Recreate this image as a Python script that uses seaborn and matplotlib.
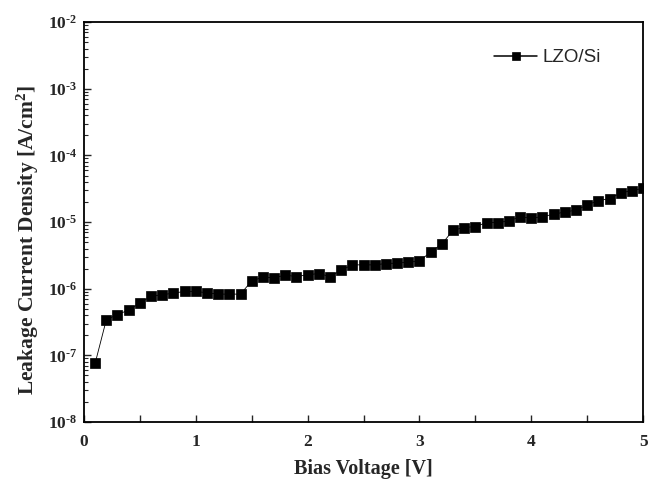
import numpy as np
import pandas as pd
import matplotlib
matplotlib.use("Agg")
import matplotlib.pyplot as plt
from matplotlib.lines import Line2D
from matplotlib.legend_handler import HandlerTuple
import seaborn as sns
from matplotlib.ticker import LogLocator, FixedLocator, FuncFormatter, NullFormatter

voltage = [0.1, 0.2, 0.3, 0.4, 0.5, 0.6, 0.7, 0.8, 0.9, 1.0,
           1.1, 1.2, 1.3, 1.4, 1.5, 1.6, 1.7, 1.8, 1.9, 2.0,
           2.1, 2.2, 2.3, 2.4, 2.5, 2.6, 2.7, 2.8, 2.9, 3.0,
           3.1, 3.2, 3.3, 3.4, 3.5, 3.6, 3.7, 3.8, 3.9, 4.0,
           4.1, 4.2, 4.3, 4.4, 4.5, 4.6, 4.7, 4.8, 4.9, 5.0]
current = [7.6e-8, 3.42e-7, 4.1e-7, 4.78e-7, 6.08e-7, 7.74e-7, 8.1e-7, 8.6e-7, 9.1e-7, 9.1e-7,
           8.7e-7, 8.3e-7, 8.3e-7, 8.3e-7, 1.31e-6, 1.49e-6, 1.46e-6, 1.6e-6, 1.52e-6, 1.62e-6,
           1.69e-6, 1.52e-6, 1.9e-6, 2.28e-6, 2.28e-6, 2.28e-6, 2.39e-6, 2.42e-6, 2.51e-6, 2.59e-6,
           3.57e-6, 4.67e-6, 7.56e-6, 8.28e-6, 8.57e-6, 9.84e-6, 9.84e-6, 1.04e-5, 1.2e-5, 1.14e-5,
           1.21e-5, 1.31e-5, 1.42e-5, 1.51e-5, 1.81e-5, 2.1e-5, 2.25e-5, 2.74e-5, 2.97e-5, 3.22e-5]
series_label = "LZO/Si"
x_ticks = [0, 1, 2, 3, 4, 5]
y_exponents = [-8, -7, -6, -5, -4, -3, -2]

sns.set_style("ticks")
plt.rcParams['font.family'] = ['Liberation Serif', 'DejaVu Serif']
plt.rcParams['mathtext.fontset'] = 'custom'
plt.rcParams['mathtext.rm'] = 'Liberation Serif'
plt.rcParams['mathtext.bf'] = 'Liberation Serif:bold'
plt.rcParams['mathtext.it'] = 'Liberation Serif:italic'

df = pd.DataFrame({"V": voltage, "J": current})

fig = plt.figure(figsize=(6.61, 4.82), dpi=100)
ax = fig.add_axes([0.127, 0.1245, 0.846, 0.8295])

sns.lineplot(data=df, x="V", y="J", ax=ax, color="black", linewidth=0.6,
             marker="s", markersize=6.5, markeredgecolor="black", markeredgewidth=0.5,
             legend=False)

ax.set_yscale("log")
ax.set_xlim(0, 5)
ax.set_ylim(10.0 ** y_exponents[0], 10.0 ** y_exponents[-1])

ax.xaxis.set_major_locator(FixedLocator(x_ticks))
ax.xaxis.set_minor_locator(FixedLocator([0.5, 1.5, 2.5, 3.5, 4.5]))
ax.yaxis.set_major_locator(FixedLocator([10.0 ** e for e in y_exponents]))
ax.yaxis.set_minor_locator(LogLocator(base=10, subs=np.arange(2, 10), numticks=20))
ax.yaxis.set_minor_formatter(NullFormatter())
ax.yaxis.set_major_formatter(FuncFormatter(
    lambda v, p: r'$\mathbf{10}^{\mathbf{\text{-}%d}}$' % abs(int(round(np.log10(v))))))
ax.xaxis.set_major_formatter(FuncFormatter(lambda v, p: '%d' % int(round(v))))

ax.tick_params(axis='both', which='major', direction='in', length=5, width=1,
               labelsize=12.5)
ax.tick_params(axis='x', which='major', pad=9)
ax.tick_params(axis='x', which='minor', direction='in', length=5, width=1)
ax.tick_params(axis='y', which='minor', direction='in', length=3, width=0.8)
ax.tick_params(axis='y', which='major', pad=5)
for lab in ax.get_xticklabels() + ax.get_yticklabels():
    lab.set_fontweight('bold')

for s in ax.spines.values():
    s.set_visible(True)
    s.set_linewidth(1.3)
    s.set_color('black')

ax.set_xlabel("Bias Voltage [V]", fontsize=14.5, fontweight='bold', labelpad=6)
ax.set_ylabel(r"Leakage Current Density [A/cm$^\mathbf{2}$]", fontsize=15.5,
              fontweight='bold')
ax.yaxis.set_label_coords(-0.076, 0.455)

h_line = Line2D([], [], color='black', linewidth=1.1)
h_mark = Line2D([], [], color='black', linestyle='none', marker='s', markersize=6,
                markeredgecolor='black', markeredgewidth=0.5)
leg = ax.legend(handles=[(h_line, h_mark)], labels=[series_label], loc='upper right',
                bbox_to_anchor=(0.955, 0.975), frameon=False, numpoints=1,
                handler_map={tuple: HandlerTuple(ndivide=1, pad=0)},
                prop={'family': 'Liberation Sans', 'size': 13.5},
                handlelength=2.3, handletextpad=0.3)

fig.savefig("out.png", dpi=100)
